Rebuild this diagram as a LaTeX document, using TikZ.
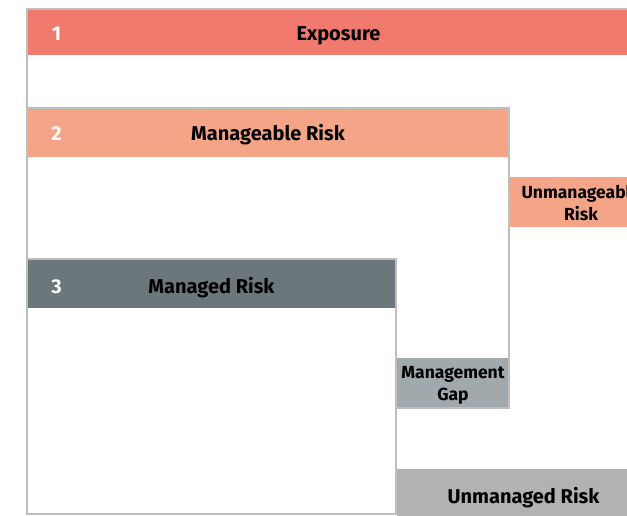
\documentclass[tikz,border=0pt]{standalone}
\usepackage{fontspec}
\setmainfont{Fira Sans}
\definecolor{hdrred}{HTML}{F07A6E}
\definecolor{hdrpeach}{HTML}{F4A588}
\definecolor{hdrslate}{HTML}{6C777C}
\definecolor{gapgray}{HTML}{A1A9AD}
\definecolor{unmgray}{HTML}{B2B2B2}
\definecolor{bordergray}{HTML}{BEBEBE}
\tikzset{
  hdr/.style={font=\fontsize{20}{24}\selectfont\bfseries, text=black, inner sep=0pt, anchor=base},
  num/.style={hdr, text=white},
  small/.style={font=\fontsize{17.5}{22}\selectfont\bfseries, text=black, align=center, inner sep=0pt},
  frame/.style={draw=bordergray, line width=2pt, fill=white},
}
\begin{document}
\begin{tikzpicture}[x=1pt,y=-1pt]
\useasboundingbox (0,0) rectangle (627,516);
\clip (0,0) rectangle (627,516);
\fill[white] (0,0) rectangle (627,516);
% frames
\draw[frame] (27,9) rectangle (650,514);
\draw[frame] (27,108) rectangle (509,408);
\draw[frame] (27,259) rectangle (396,514);
% headers
\fill[hdrred] (28,10) rectangle (650,55);
\fill[hdrpeach] (28,109) rectangle (508,157);
\fill[hdrslate] (28,260) rectangle (395,308);
% side bands
\fill[hdrpeach] (510,177) rectangle (650,227);
\fill[gapgray] (397,358) rectangle (508,407);
\fill[unmgray] (397,469) rectangle (650,516);
% texts
\node[num] (n1) at (56.5,40.5) {1};
\node[hdr] (exposure) at (338.5,40.5) {Exposure};
\node[num] (n2) at (56.5,140.5) {2};
\node[hdr] (manageable) at (268,140.5) {Manageable Risk};
\node[num] (n3) at (56.5,293) {3};
\node[hdr] (managed) at (211.5,293) {Managed Risk};
\node[small] (unmanageable) at (581,203) {Unmanageable\\Risk};
\node[small] (gap) at (453,385.5) {Management\\Gap};
\node[hdr] (unmanaged) at (523.5,503) {Unmanaged Risk};
\end{tikzpicture}
\end{document}
